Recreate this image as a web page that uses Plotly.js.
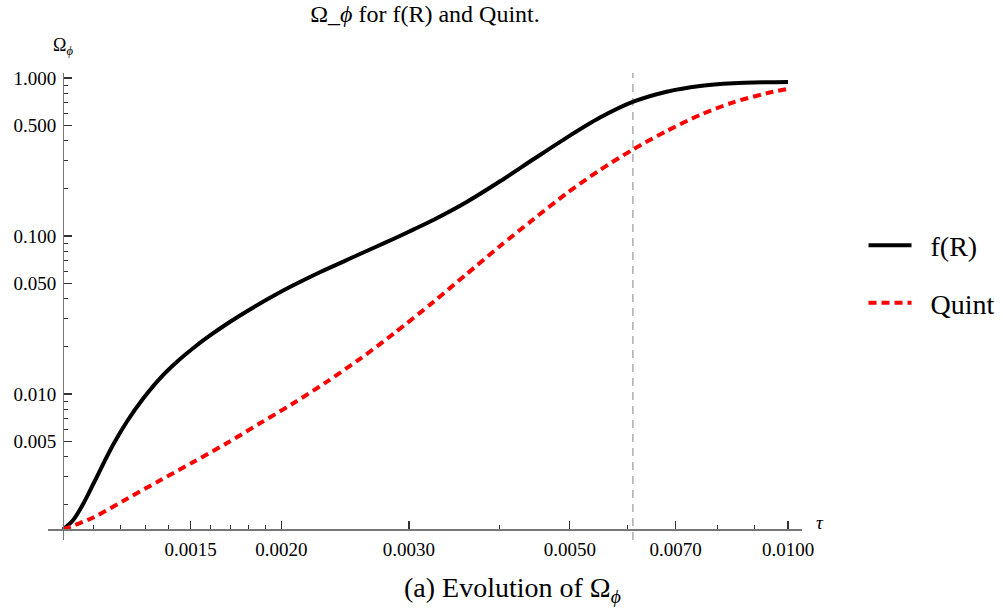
<!DOCTYPE html>
<html>
<head>
<meta charset="utf-8">
<script src="https://cdn.plot.ly/plotly-3.0.1.min.js"></script>
<style>html,body{margin:0;padding:0;background:#fff;}#chart{width:1003px;height:612px;}</style>
</head>
<body>
<div id="chart"></div>
<script>
// ---- data ----
const tauFR = [0.001, 0.001033, 0.001067, 0.001101, 0.001137, 0.001173, 0.001224, 0.00129, 0.00136, 0.001435, 0.001513, 0.001595, 0.001682, 0.001773, 0.001869, 0.001972, 0.002078, 0.002191, 0.00231, 0.002436, 0.002568, 0.002708, 0.002855, 0.003042, 0.003242, 0.003604, 0.004007, 0.004455, 0.004952, 0.005504, 0.006118, 0.006802, 0.007562, 0.008405, 0.009346, 0.01];
const omegaFR = [0.001388, 0.001594, 0.002028, 0.002694, 0.003632, 0.004791, 0.00665, 0.009365, 0.01253, 0.01594, 0.01955, 0.02346, 0.02773, 0.03232, 0.03739, 0.04295, 0.04875, 0.05501, 0.06166, 0.06887, 0.07691, 0.08578, 0.09572, 0.1098, 0.1263, 0.1641, 0.2219, 0.3058, 0.4195, 0.5616, 0.7079, 0.819, 0.8901, 0.9256, 0.9393, 0.9434];

const tauQ = [0.001, 0.001101, 0.001224, 0.00136, 0.001513, 0.001682, 0.001869, 0.002078, 0.00231, 0.002568, 0.002855, 0.003242, 0.003604, 0.004007, 0.004455, 0.004952, 0.005504, 0.006118, 0.006802, 0.007562, 0.008405, 0.009346, 0.01];
const omegaQ = [0.001388, 0.001654, 0.002165, 0.002835, 0.003712, 0.004875, 0.006527, 0.008731, 0.01193, 0.01668, 0.02401, 0.03822, 0.05746, 0.08643, 0.1276, 0.1864, 0.2617, 0.3537, 0.462, 0.5833, 0.7016, 0.8, 0.8545];

const seriesNames = ["f(R)", "Quint"];
const dashedTau = 0.00611;

const xTickVals = [0.0015, 0.002, 0.003, 0.005, 0.007, 0.01];
const xTickText = ["0.0015", "0.0020", "0.0030", "0.0050", "0.0070", "0.0100"];
const xMinorVals = [0.0011, 0.0012, 0.0013, 0.0014, 0.0016, 0.0017, 0.0018, 0.0019, 0.004, 0.006, 0.008, 0.009];
const yTickVals = [1, 0.5, 0.1, 0.05, 0.01, 0.005];
const yTickText = ["1.000", "0.500", "0.100", "0.050", "0.010", "0.005"];
const yMinorVals = [0.9, 0.8, 0.7, 0.6, 0.4, 0.3, 0.2, 0.09, 0.08, 0.07, 0.06, 0.04, 0.03, 0.02, 0.009, 0.008, 0.007, 0.006, 0.004, 0.003, 0.002];

// ---- axis geometry ----
const xOrigin = 0.001, yOrigin = 0.001388;
const xRange = [Math.log10(xOrigin) - 0.0207, -1.9807];
const yRange = [Math.log10(yOrigin) - 0.0665, 0.0316];
const xAxisPos = (Math.log10(yOrigin) - yRange[0]) / (yRange[1] - yRange[0]);
const yAxisPos = (Math.log10(xOrigin) - xRange[0]) / (xRange[1] - xRange[0]);

const serif = "Liberation Serif, Times New Roman, serif";
const gap = "\u00a0\u00a0";

const traces = [
  {x: [dashedTau, dashedTau], y: [Math.pow(10, yRange[0]), Math.pow(10, yRange[1])], mode: "lines",
   showlegend: false, hoverinfo: "skip", line: {color: "#999999", width: 1.2, dash: "8px,6px"}},
  {x: tauFR, y: omegaFR, name: gap + seriesNames[0], mode: "lines", legendgroup: "a",
   line: {color: "#000000", width: 4, shape: "spline", smoothing: 0.8}},
  {x: tauQ, y: omegaQ, name: gap + seriesNames[1], mode: "lines", legendgroup: "b",
   line: {color: "#ff0000", width: 4, dash: "8px,5px", shape: "spline", smoothing: 0.8}}
];

const axisCommon = {
  type: "log", showgrid: false, zeroline: false, showline: true,
  linecolor: "#777", linewidth: 1.2, ticks: "inside", ticklen: 8, tickwidth: 1.2,
  tickcolor: "#333", tickfont: {family: serif, size: 19, color: "#000"},
  anchor: "free", tickmode: "array", ticklabelstandoff: 3
};

const layout = {
  width: 1003, height: 612,
  margin: {l: 48, r: 201, t: 73, b: 72, autoexpand: false},
  paper_bgcolor: "#fff", plot_bgcolor: "#fff",
  showlegend: true,
  title: {text: "Ω_<i>ϕ</i> for f(R) and Quint.", font: {family: serif, size: 24, color: "#000"},
          x: 0.5, xref: "paper", y: 1 - 14 / 612, yref: "container", yanchor: "middle"},
  xaxis: Object.assign({}, axisCommon, {
    range: xRange, position: xAxisPos, side: "bottom",
    tickvals: xTickVals, ticktext: xTickText,
    minor: {tickmode: "array", tickvals: xMinorVals, ticks: "inside", ticklen: 4, tickcolor: "#333", tickwidth: 1}
  }),
  yaxis: Object.assign({}, axisCommon, {
    range: yRange, position: yAxisPos, side: "left",
    tickvals: yTickVals, ticktext: yTickText,
    minor: {tickmode: "array", tickvals: yMinorVals, ticks: "inside", ticklen: 4, tickcolor: "#333", tickwidth: 1}
  }),
  legend: {x: 1.0816, xanchor: "left", y: 0.684, yanchor: "top",
           font: {family: serif, size: 28, color: "#000"}, itemwidth: 43,
           tracegroupgap: 18, traceorder: "grouped", bgcolor: "rgba(0,0,0,0)"},
  annotations: [
    {text: "Ω<sub><i>ϕ</i></sub>", xref: "paper", yref: "paper", x: yAxisPos, y: 1 + 27 / 467,
     xanchor: "center", yanchor: "middle", showarrow: false, font: {family: serif, size: 18, color: "#000"}},
    {text: "<i>τ</i>", xref: "paper", yref: "paper", x: (820 - 48) / 754, y: (540 - 522) / 467,
     xanchor: "center", yanchor: "middle", showarrow: false, font: {family: serif, size: 19, color: "#000"}},
    {text: "(a) Evolution of Ω<sub><i>ϕ</i></sub>", xref: "paper", yref: "paper", x: (512 - 48) / 754, y: (540 - 589) / 467,
     xanchor: "center", yanchor: "middle", showarrow: false, font: {family: serif, size: 28, color: "#000"}}
  ]
};

Plotly.newPlot("chart", traces, layout, {displayModeBar: false, staticPlot: true});
</script>
</body>
</html>
